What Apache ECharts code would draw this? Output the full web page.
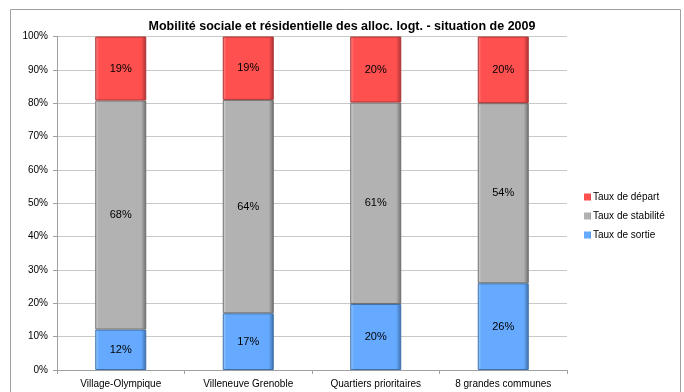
<!DOCTYPE html>
<html>
<head>
<meta charset="utf-8">
<script src="https://cdn.jsdelivr.net/npm/echarts@6/dist/echarts.min.js"></script>
<style>
  html, body { margin: 0; padding: 0; background: #fff; }
  #chart { width: 684px; height: 392px; }
</style>
</head>
<body>
<div id="chart"></div>
<script>
// Category labels and rates (percent) per area
const categories = ['Village-Olympique', 'Villeneuve Grenoble', 'Quartiers prioritaires', '8 grandes communes'];
const tauxSortie = [12, 17, 20, 26];
const tauxStabilite = [68, 64, 61, 54];
const tauxDepart = [19, 19, 20, 20];
const yTicks = [0, 10, 20, 30, 40, 50, 60, 70, 80, 90, 100];

const FONT = 'Liberation Sans, Arial, sans-serif';

// 100% stacked: each segment is its share of the column total
const totals = categories.map((_, i) => tauxSortie[i] + tauxStabilite[i] + tauxDepart[i]);
const share = arr => arr.map((v, i) => ({ value: v / totals[i] * 100, raw: v }));

function bevel(light, main, dark) {
  return {
    type: 'linear', x: 0, y: 0, x2: 1, y2: 0,
    colorStops: [
      { offset: 0, color: light },
      { offset: 0.07, color: main },
      { offset: 0.9, color: main },
      { offset: 1, color: dark }
    ]
  };
}

function makeSeries(name, values, light, main, dark) {
  return {
    name: name,
    type: 'bar',
    stack: 'total',
    barWidth: '40%',
    data: share(values),
    itemStyle: {
      color: bevel(light, main, dark),
      borderColor: dark,
      borderWidth: 1
    },
    label: {
      show: true,
      position: 'inside',
      color: '#000',
      fontFamily: FONT,
      fontSize: 11,
      formatter: p => p.data.raw + '%'
    }
  };
}

const chart = echarts.init(document.getElementById('chart'), null, { renderer: 'canvas' });
chart.setOption({
  animation: false,
  title: {
    text: 'Mobilité sociale et résidentielle des alloc. logt. - situation de 2009',
    left: 'center',
    top: 15,
    textStyle: { fontFamily: FONT, fontSize: 12.5, fontWeight: 'bold', color: '#000' }
  },
  graphic: [{
    type: 'rect',
    shape: { x: 10.5, y: 9.5, width: 670, height: 400 },
    style: { fill: 'none', stroke: '#a0a0a0', lineWidth: 1 },
    silent: true,
    z: -1
  }],
  legend: {
    orient: 'vertical',
    left: 579,
    top: 187,
    itemWidth: 7,
    itemHeight: 7,
    itemGap: 9,
    icon: 'rect',
    itemStyle: { borderWidth: 0 },
    data: ['Taux de départ', 'Taux de stabilité', 'Taux de sortie'],
    textStyle: { fontFamily: FONT, fontSize: 10, color: '#000', padding: [0, 0, 0, -3] }
  },
  grid: { left: 57, right: 117, top: 36.5, bottom: 22, containLabel: false },
  xAxis: {
    type: 'category',
    data: categories,
    axisLine: { lineStyle: { color: '#a0a0a0' } },
    axisTick: { show: true, alignWithLabel: false, length: 4, lineStyle: { color: '#a0a0a0' } },
    axisLabel: { interval: 0, color: '#000', fontFamily: FONT, fontSize: 10, margin: 9 }
  },
  yAxis: {
    type: 'value',
    min: yTicks[0],
    max: yTicks[yTicks.length - 1],
    interval: yTicks[1] - yTicks[0],
    axisLine: { show: true, lineStyle: { color: '#a0a0a0' } },
    axisTick: { show: true, inside: false, length: 4, lineStyle: { color: '#a0a0a0' } },
    axisLabel: { color: '#000', fontFamily: FONT, fontSize: 10, margin: 9, formatter: '{value}%' },
    splitLine: { lineStyle: { color: '#c8c8c8' } }
  },
  series: [
    makeSeries('Taux de sortie', tauxSortie, '#9fd0ff', '#66aaff', '#3d6fa8'),
    makeSeries('Taux de stabilité', tauxStabilite, '#d8d8d8', '#b2b2b2', '#6e6e6e'),
    makeSeries('Taux de départ', tauxDepart, '#ff8c8c', '#ff5050', '#a83232')
  ]
});
</script>
</body>
</html>
